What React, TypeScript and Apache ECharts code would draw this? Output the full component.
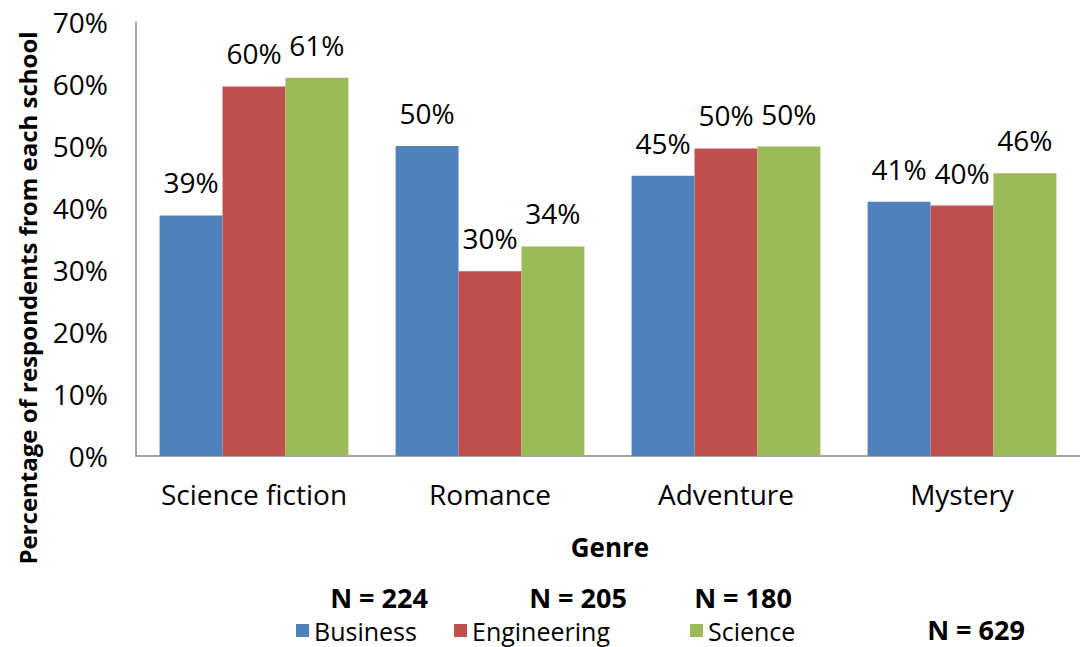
import React, { useEffect, useRef } from "react";
import * as echarts from "echarts";

const categories = ["Science fiction", "Romance", "Adventure", "Mystery"];
const seriesNames = ["Business", "Engineering", "Science"];
const business = [38.8, 50.0, 45.2, 41.0];
const engineering = [59.6, 29.8, 49.6, 40.4];
const science = [61.0, 33.8, 49.9, 45.6];
const colors = ["#4F81BD", "#C0504D", "#9BBB59"];
const groupN = ["N = 224", "N = 205", "N = 180"];
const totalN = "N = 629";
const yTitle = "Percentage of respondents from each school";
const xTitle = "Genre";

const FONT = "'Open Sans', 'Liberation Sans', sans-serif";

export default function App() {
  const ref = useRef<HTMLDivElement>(null);
  useEffect(() => {
    document.body.style.margin = "0";
    const chart = echarts.init(ref.current!, null, { renderer: "svg" });
    const values = [business, engineering, science];
    const legendLefts = [296, 454, 690];
    const nCenters = [379, 578, 743];
    chart.setOption({
      animation: false,
      backgroundColor: "#ffffff",
      textStyle: { fontFamily: FONT },
      grid: { left: 136, top: 22, right: -4, bottom: 191, containLabel: false },
      legend: seriesNames.map((name, i) => ({
        data: [name],
        left: legendLefts[i],
        top: 618,
        icon: "rect",
        itemWidth: 13,
        itemHeight: 13,
        itemGap: 0,
        padding: 0,
        textStyle: { fontFamily: FONT, fontSize: 25, lineHeight: 25, color: "#000" },
      })),
      xAxis: {
        type: "category",
        data: categories,
        axisLine: { lineStyle: { color: "#868686", width: 1.5 } },
        axisTick: { show: false },
        axisLabel: { interval: 0, fontFamily: FONT, fontSize: 28, color: "#000", margin: 24 },
      },
      yAxis: {
        type: "value",
        min: 0,
        max: 70,
        interval: 10,
        splitLine: { show: false },
        axisLine: { show: true, lineStyle: { color: "#868686", width: 1.5 } },
        axisTick: { show: false },
        axisLabel: {
          fontFamily: FONT,
          fontSize: 28,
          color: "#000",
          margin: 28,
          formatter: (v: number) => v + "%",
        },
      },
      series: seriesNames.map((name, i) => ({
        name,
        type: "bar",
        data: values[i],
        barGap: "0%",
        barCategoryGap: "20%",
        itemStyle: { color: colors[i] },
        label: {
          show: true,
          position: "top",
          distance: 19,
          fontFamily: FONT,
          fontSize: 28,
          color: "#000",
          formatter: (p: any) => Math.round(p.value) + "%",
        },
      })),
      graphic: [
        {
          type: "text",
          x: 27,
          y: 298,
          rotation: Math.PI / 2,
          style: {
            text: yTitle,
            fontFamily: FONT,
            fontSize: 24,
            fontWeight: "bold",
            fill: "#000",
            align: "center",
            verticalAlign: "middle",
          },
        },
        {
          type: "text",
          x: 610,
          y: 547,
          style: {
            text: xTitle,
            fontFamily: FONT,
            fontSize: 26,
            fontWeight: "bold",
            fill: "#000",
            align: "center",
            verticalAlign: "middle",
          },
        },
        ...groupN.map((t, i) => ({
          type: "text",
          x: nCenters[i],
          y: 597,
          style: {
            text: t,
            fontFamily: FONT,
            fontSize: 27,
            fontWeight: "bold",
            fill: "#000",
            align: "center",
            verticalAlign: "middle",
          },
        })),
        {
          type: "text",
          x: 976,
          y: 629,
          style: {
            text: totalN,
            fontFamily: FONT,
            fontSize: 27,
            fontWeight: "bold",
            fill: "#000",
            align: "center",
            verticalAlign: "middle",
          },
        },
      ],
    });
    return () => chart.dispose();
  }, []);
  return <div ref={ref} style={{ width: 1080, height: 647 }} />;
}
